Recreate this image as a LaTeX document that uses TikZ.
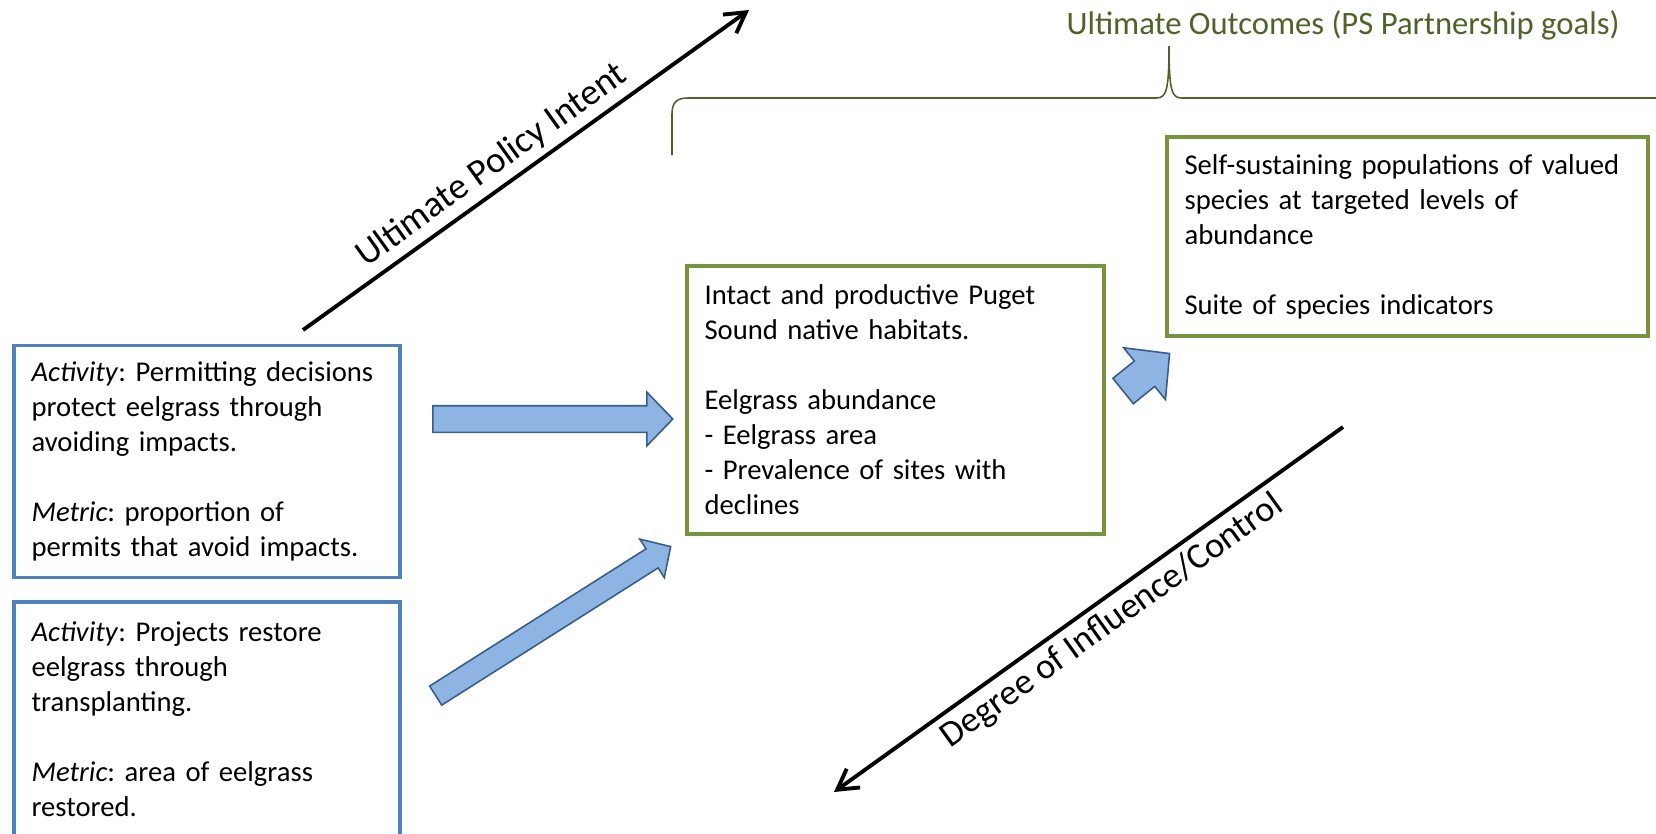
\documentclass[tikz,border=0pt]{standalone}
\usepackage{fontspec}
\setmainfont{Carlito}
\usetikzlibrary{arrows.meta,shapes.arrows,calc,positioning}

\definecolor{boxblue}{HTML}{4F81BD}
\definecolor{boxgreen}{HTML}{77933C}
\definecolor{arrowfill}{HTML}{8EB4E3}
\definecolor{arrowline}{HTML}{385D8A}
\definecolor{olivetext}{HTML}{4F6228}

% block arrow: name, from, to, half shaft width, head extend
\newcommand{\blockarrow}[5]{%
  \path let \p1=(#2), \p2=(#3),
    \n1={atan2(\y2-\y1,\x2-\x1)}, \n2={veclen(\x2-\x1,\y2-\y1)} in
    node[blockarr, rotate=\n1, anchor=tail, minimum height=\n2, inner ysep=#4,
      single arrow head extend=#5] (#1) at (\p1) {};%
}
\newcommand{\boxfont}{\fontsize{16.3}{19.9}\selectfont\frenchspacing\hyphenpenalty=10000\relax}

\begin{document}
\begin{tikzpicture}[
        x=0.02cm, y=-0.02cm,
        actbox/.style={draw=boxblue, line width=2pt, minimum width=7.72cm,
            text width=7.02cm, inner xsep=0.35cm, align=left, font=\boxfont},
        goalbox/.style={actbox, draw=boxgreen},
        blockarr/.style={single arrow, draw=arrowline, fill=arrowfill,
            line width=0.9pt, inner xsep=0pt, single arrow tip angle=92,
            single arrow head indent=0pt},
        barb/.tip={Straight Barb[length=0.4cm, width=0.46cm]},
        axisline/.style={line width=2.2pt},
        axislabel/.style={sloped, font=\fontsize{21}{25}\selectfont}
    ]

    \useasboundingbox (0,0) rectangle (1656,833);

    \node[actbox, minimum height=4.64cm] (permit) at (207,461.5)
        {\textit{Activity}: Permitting decisions\\ protect eelgrass through\\
         avoiding impacts.\\[19.9pt]
         \textit{Metric}: proportion of\\ permits that avoid impacts.};
    \node[actbox, minimum height=4.68cm] (restore) at (207,719)
        {\textit{Activity}: Projects restore\\ eelgrass through\\
         transplanting.\\[19.9pt]
         \textit{Metric}: area of eelgrass\\ restored.};
    \node[goalbox, minimum width=8.34cm, text width=7.64cm, minimum height=5.36cm]
        (habitat) at (895.5,400)
        {Intact and productive Puget\\ Sound native habitats.\\[19.9pt]
         Eelgrass abundance\\ - Eelgrass area\\ - Prevalence of sites with\\ declines};
    \node[goalbox, minimum width=9.62cm, text width=8.92cm, minimum height=3.98cm]
        (species) at (1407.5,236.5)
        {Self-sustaining populations of valued\\ species at targeted levels of\\
         abundance\\[19.9pt] Suite of species indicators};

    % block arrows
    \coordinate (h0) at (432,419) ;
    \coordinate (h1) at (672,419) ;
    \coordinate (d0) at (435,696) ;
    \coordinate (d1) at (670,547) ;
    \coordinate (s0) at (1122.5,391.5) ;
    \coordinate (s1) at (1169,354) ;
    \blockarrow{permitarrow}{h0}{h1}{0.25cm}{0.27cm}
    \blockarrow{restorearrow}{d0}{d1}{0.21cm}{0.23cm}
    \blockarrow{habitatarrow}{s0}{s1}{0.31cm}{0.34cm}

    % axes
    \coordinate (pol0) at (303,330) ;
    \coordinate (pol1) at (749,10) ;
    \draw[axisline, -barb] (pol0) -- (pol1)
        node[axislabel, above, pos=0.454] (policy) {Ultimate Policy Intent};
    \coordinate (deg0) at (834,792) ;
    \coordinate (deg1) at (1343,427) ;
    \draw[axisline, barb-] (deg0) -- (deg1)
        node[axislabel, below, pos=0.52, font=\fontsize{20.6}{24}\selectfont]
        (degree) {Degree of Influence/Control};

    % brace over the outcomes
    \draw[olivetext, line width=0.9pt] (672,155) -- (672,114)
        .. controls (672,103) and (676,98) .. (688,98) -- (1156,98)
        .. controls (1166,98) and (1169,92) .. (1169,46)
        .. controls (1169,92) and (1172,98) .. (1182,98) -- (1656,98);
    \node[text=olivetext, font=\fontsize{18.6}{22}\selectfont] (outcomes) at (1343,25)
        {Ultimate Outcomes (PS Partnership goals)};

\end{tikzpicture}
\end{document}
